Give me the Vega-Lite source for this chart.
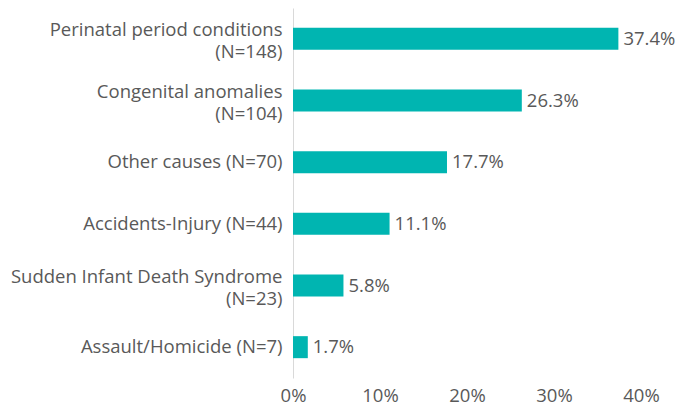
{
  "$schema": "https://vega.github.io/schema/vega-lite/v6.json",
  "width": 348,
  "height": 370,
  "autosize": {"type": "none"},
  "padding": {"left": 293, "top": 8, "right": 37, "bottom": 27},
  "background": "white",
  "config": {"view": {"stroke": null}, "font": "Open Sans"},
  "data": {
    "values": [
      {"cause": "Perinatal period conditions|(N=148)", "pct": 0.374},
      {"cause": "Congenital anomalies|(N=104)", "pct": 0.263},
      {"cause": "Other causes (N=70)", "pct": 0.177},
      {"cause": "Accidents-Injury (N=44)", "pct": 0.111},
      {"cause": "Sudden Infant Death Syndrome|(N=23)", "pct": 0.058},
      {"cause": "Assault/Homicide (N=7)", "pct": 0.017}
    ]
  },
  "encoding": {
    "y": {
      "field": "cause", "type": "nominal", "sort": null,
      "scale": {"paddingInner": 0.643, "paddingOuter": 0.3215},
      "axis": {
        "title": null, "ticks": false, "domainColor": "#d9d9d9", "domainWidth": 1,
        "labelExpr": "split(datum.label, '|')", "labelLineHeight": 21.5,
        "labelOffset": {"condition": {"test": "indexof(datum.value, '|') >= 0", "value": -8.5}, "value": 0},
        "labelFont": "Open Sans", "labelFontSize": 18.5, "labelColor": "#595959",
        "labelPadding": 11, "labelLimit": 300
      }
    },
    "x": {
      "field": "pct", "type": "quantitative",
      "scale": {"domain": [0, 0.4]},
      "axis": {
        "title": null, "format": ".0%", "values": [0, 0.1, 0.2, 0.3, 0.4],
        "grid": false, "domain": false, "ticks": false,
        "labelOverlap": false, "labelFlush": false,
        "labelFont": "Open Sans", "labelFontSize": 18.5, "labelColor": "#595959",
        "labelPadding": 8
      }
    }
  },
  "layer": [
    {"mark": {"type": "bar", "color": "#00B5B1"}},
    {
      "mark": {"type": "text", "align": "left", "dx": 5, "font": "Open Sans", "fontSize": 18.5, "color": "#595959"},
      "encoding": {"text": {"field": "pct", "type": "quantitative", "format": ".1%"}}
    }
  ]
}
